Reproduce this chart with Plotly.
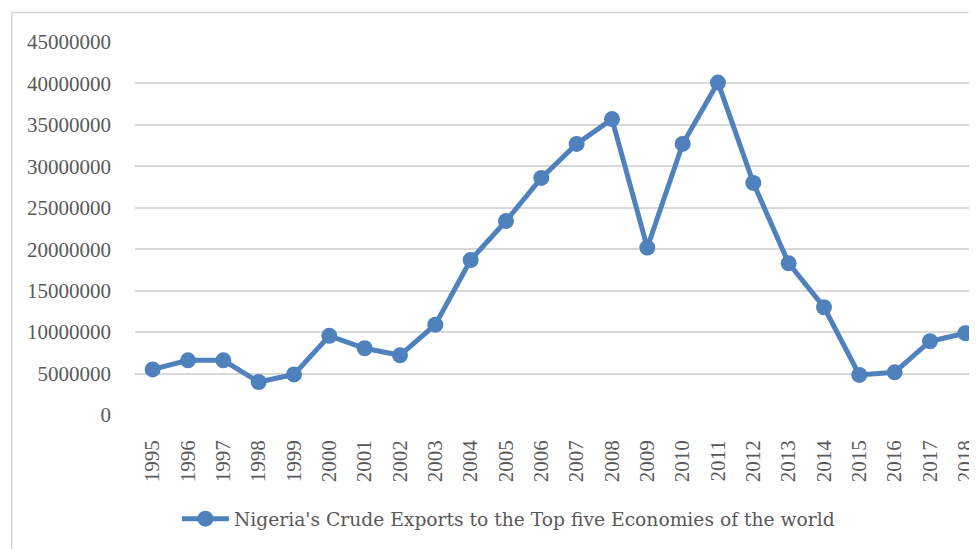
import plotly.graph_objects as go

years = [str(y) for y in range(1995, 2019)]
exports = [5500000, 6600000, 6600000, 3980000, 4900000, 9550000, 8050000, 7200000,
           10900000, 18700000, 23400000, 28600000, 32700000, 35700000, 20200000,
           32700000, 40100000, 28000000, 18300000, 13000000, 4830000, 5150000,
           8900000, 9870000]
series_name = "Nigeria's Crude Exports to the Top five Economies of the world"
y_ticks = list(range(0, 45000001, 5000000))

# page body has an 8px margin; compensate so screen coords match
OFF = 8
W, H = 977 - OFF, 549 - OFF
ML, MR, MT = 135 - OFF, 0, 42 - OFF
ph = 373
MB = H - MT - ph
pw = W - ML - MR

font_family = "Liberation Serif, DejaVu Serif, serif"
grey = "#595959"

fig = go.Figure()
fig.add_trace(go.Scatter(
    x=list(range(len(years))), y=exports, mode="lines+markers", name=series_name,
    line=dict(color="#4F81BD", width=5),
    marker=dict(color="#4F81BD", size=16),
    cliponaxis=False,
))

cat_w = 850 / len(years)
x_right = -0.5 + pw / cat_w

def px_x(sx):
    return (sx - OFF - ML) / pw

def px_y(sy):
    return (MT + ph - (sy - OFF)) / ph

fig.update_layout(
    width=W, height=H,
    margin=dict(l=ML, r=MR, t=MT, b=MB),
    paper_bgcolor="white", plot_bgcolor="white",
    font=dict(family=font_family, size=21, color=grey),
    showlegend=True,
    legend=dict(orientation="h", x=px_x(177), xanchor="left",
                y=px_y(519), yanchor="middle", itemwidth=47,
                font=dict(family="DejaVu Serif, serif", size=18.7, color=grey),
                bgcolor="rgba(0,0,0,0)"),
    xaxis=dict(range=[-0.5, x_right], tickmode="array",
               tickvals=list(range(len(years))), ticktext=years,
               tickangle=-90, showgrid=False, zeroline=False, showline=False,
               ticks="", ticklabelstandoff=20, ticklabeloverflow="allow",
               tickfont=dict(size=21, color=grey)),
    yaxis=dict(range=[0, 45000000], tickmode="array", tickvals=y_ticks,
               ticktext=[str(v) for v in y_ticks],
               showgrid=True, gridcolor="#D9D9D9", gridwidth=1.5,
               zeroline=False, showline=False, ticks="",
               ticklabelstandoff=23,
               tickfont=dict(size=21, color=grey)),
    shapes=[dict(type="rect", xref="paper", yref="paper",
                 x0=px_x(11.5), x1=1.2,
                 y0=-1.0, y1=px_y(12.5),
                 line=dict(color="#D9D9D9", width=1.5), layer="below")],
)

fig.write_html("out.html")
